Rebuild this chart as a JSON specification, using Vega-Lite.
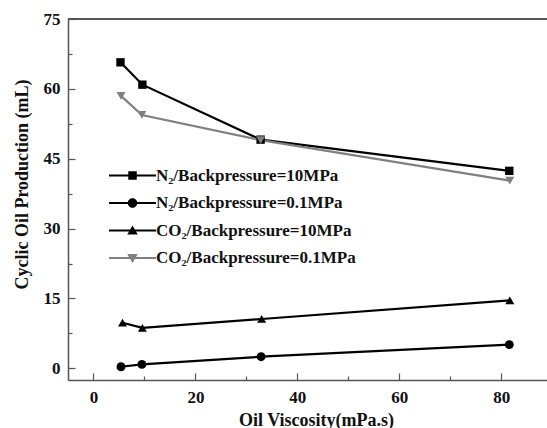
{
  "$schema": "https://vega.github.io/schema/vega-lite/v6.json",
  "width": 479,
  "height": 361,
  "autosize": {"type": "none"},
  "padding": {"left": 68, "top": 19, "right": 0, "bottom": 48},
  "background": "white",
  "config": {
    "view": {"stroke": null},
    "font": "Liberation Serif",
    "axis": {
      "grid": false,
      "domainColor": "#555555",
      "domainWidth": 1.5,
      "tickColor": "#555555",
      "tickWidth": 1.2,
      "labelFont": "Liberation Serif",
      "labelFontWeight": "bold",
      "labelFontSize": 17,
      "labelColor": "#111111",
      "titleFont": "Liberation Serif",
      "titleFontWeight": "bold",
      "titleFontSize": 18,
      "titleColor": "#111111"
    },
    "legend": {
      "orient": "none",
      "legendX": 56,
      "legendY": 148,
      "padding": 0,
      "symbolSize": 100,
      "symbolStrokeWidth": 0,
      "symbolOpacity": 1,
      "labelFont": "Liberation Serif",
      "labelFontWeight": "bold",
      "labelFontSize": 17,
      "labelColor": "#111111",
      "labelOffset": 15,
      "rowPadding": 9.5,
      "labelLimit": 400
    }
  },
  "data": {
    "values": [
      {"series": "N₂/Backpressure=10MPa", "viscosity": 5.3, "production": 65.7},
      {"series": "N₂/Backpressure=10MPa", "viscosity": 9.6, "production": 60.9},
      {"series": "N₂/Backpressure=10MPa", "viscosity": 32.8, "production": 49.1},
      {"series": "N₂/Backpressure=10MPa", "viscosity": 81.6, "production": 42.4},
      {"series": "N₂/Backpressure=0.1MPa", "viscosity": 5.4, "production": 0.35},
      {"series": "N₂/Backpressure=0.1MPa", "viscosity": 9.5, "production": 0.85},
      {"series": "N₂/Backpressure=0.1MPa", "viscosity": 32.9, "production": 2.5},
      {"series": "N₂/Backpressure=0.1MPa", "viscosity": 81.6, "production": 5.1},
      {"series": "CO₂/Backpressure=10MPa", "viscosity": 5.7, "production": 9.8},
      {"series": "CO₂/Backpressure=10MPa", "viscosity": 9.6, "production": 8.7},
      {"series": "CO₂/Backpressure=10MPa", "viscosity": 33.0, "production": 10.6},
      {"series": "CO₂/Backpressure=10MPa", "viscosity": 81.7, "production": 14.6},
      {"series": "CO₂/Backpressure=0.1MPa", "viscosity": 5.4, "production": 58.5},
      {"series": "CO₂/Backpressure=0.1MPa", "viscosity": 9.5, "production": 54.4},
      {"series": "CO₂/Backpressure=0.1MPa", "viscosity": 32.8, "production": 49.0},
      {"series": "CO₂/Backpressure=0.1MPa", "viscosity": 81.7, "production": 40.3}
    ]
  },
  "layer": [
    {
      "mark": {"type": "line", "strokeWidth": 2.2},
      "encoding": {
        "x": {
          "field": "viscosity", "type": "quantitative",
          "scale": {"domain": [-5, 89], "nice": false, "zero": false},
          "axis": {
            "orient": "bottom",
            "values": [0, 20, 40, 60, 80],
            "tickSize": -7,
            "labelPadding": 16,
            "title": "Oil Viscosity(mPa.s)",
            "titleX": 248,
            "titleY": 40,
            "titleBaseline": "middle"
          }
        },
        "y": {
          "field": "production", "type": "quantitative",
          "scale": {"domain": [-2.5, 75], "nice": false, "zero": false},
          "axis": {
            "orient": "left",
            "values": [0, 15, 30, 45, 60, 75],
            "tickSize": -7,
            "labelPadding": 15,
            "title": "Cyclic Oil Production (mL)",
            "titleY": 165,
            "titlePadding": 12
          }
        },
        "color": {
          "field": "series", "type": "nominal", "title": null,
          "scale": {
            "domain": ["N₂/Backpressure=10MPa", "N₂/Backpressure=0.1MPa", "CO₂/Backpressure=10MPa", "CO₂/Backpressure=0.1MPa"],
            "range": ["#000000", "#000000", "#000000", "#808080"]
          }
        }
      }
    },
    {
      "mark": {"type": "point", "filled": true, "opacity": 0},
      "encoding": {
        "x": {
          "field": "viscosity", "type": "quantitative",
          "axis": {"orient": "bottom", "values": [10, 30, 50, 70], "tickSize": -4, "labels": false, "domain": false, "title": null}
        },
        "y": {
          "field": "production", "type": "quantitative",
          "axis": {"orient": "left", "values": [7.5, 22.5, 37.5, 52.5, 67.5], "tickSize": -4, "labels": false, "domain": false, "title": null}
        },
        "color": {"field": "series", "type": "nominal", "title": null},
        "shape": {
          "field": "series", "type": "nominal", "title": null,
          "scale": {
            "domain": ["N₂/Backpressure=10MPa", "N₂/Backpressure=0.1MPa", "CO₂/Backpressure=10MPa", "CO₂/Backpressure=0.1MPa"],
            "range": [
              "M-4.7,-0.2H4.7V0.2H-4.7ZM-0.85,-0.85H0.85V0.85H-0.85Z",
              "M-4.7,-0.2H4.7V0.2H-4.7ZM-0.95,0A0.95,0.95,0,1,1,0.95,0A0.95,0.95,0,1,1,-0.95,0Z",
              "M-4.7,-0.2H4.7V0.2H-4.7ZM0,-1L1.05,0.8L-1.05,0.8Z",
              "M-4.7,-0.2H4.7V0.2H-4.7ZM0,1L-1.05,-0.8L1.05,-0.8Z"
            ]
          }
        }
      }
    },
    {
      "transform": [{"filter": "datum.series === 'N₂/Backpressure=10MPa'"}],
      "mark": {"type": "point", "shape": "square", "filled": true, "opacity": 1, "size": 70, "color": "#000000"},
      "encoding": {
        "x": {"field": "viscosity", "type": "quantitative", "axis": null},
        "y": {"field": "production", "type": "quantitative", "axis": null}
      }
    },
    {
      "transform": [{"filter": "datum.series === 'N₂/Backpressure=0.1MPa'"}],
      "mark": {"type": "point", "shape": "circle", "filled": true, "opacity": 1, "size": 80, "color": "#000000"},
      "encoding": {
        "x": {"field": "viscosity", "type": "quantitative", "axis": null},
        "y": {"field": "production", "type": "quantitative", "axis": null}
      }
    },
    {
      "transform": [{"filter": "datum.series === 'CO₂/Backpressure=10MPa'"}],
      "mark": {"type": "point", "shape": "triangle-up", "filled": true, "opacity": 1, "size": 80, "color": "#000000"},
      "encoding": {
        "x": {"field": "viscosity", "type": "quantitative", "axis": null},
        "y": {"field": "production", "type": "quantitative", "axis": null}
      }
    },
    {
      "transform": [{"filter": "datum.series === 'CO₂/Backpressure=0.1MPa'"}],
      "mark": {"type": "point", "shape": "triangle-down", "filled": true, "opacity": 1, "size": 80, "color": "#808080"},
      "encoding": {
        "x": {"field": "viscosity", "type": "quantitative", "axis": null},
        "y": {"field": "production", "type": "quantitative", "axis": null}
      }
    },
    {
      "mark": {"type": "rule", "color": "#555555", "strokeWidth": 1.5},
      "encoding": {"y": {"datum": 75, "axis": null}}
    }
  ],
  "resolve": {"axis": {"x": "independent", "y": "independent"}}
}
